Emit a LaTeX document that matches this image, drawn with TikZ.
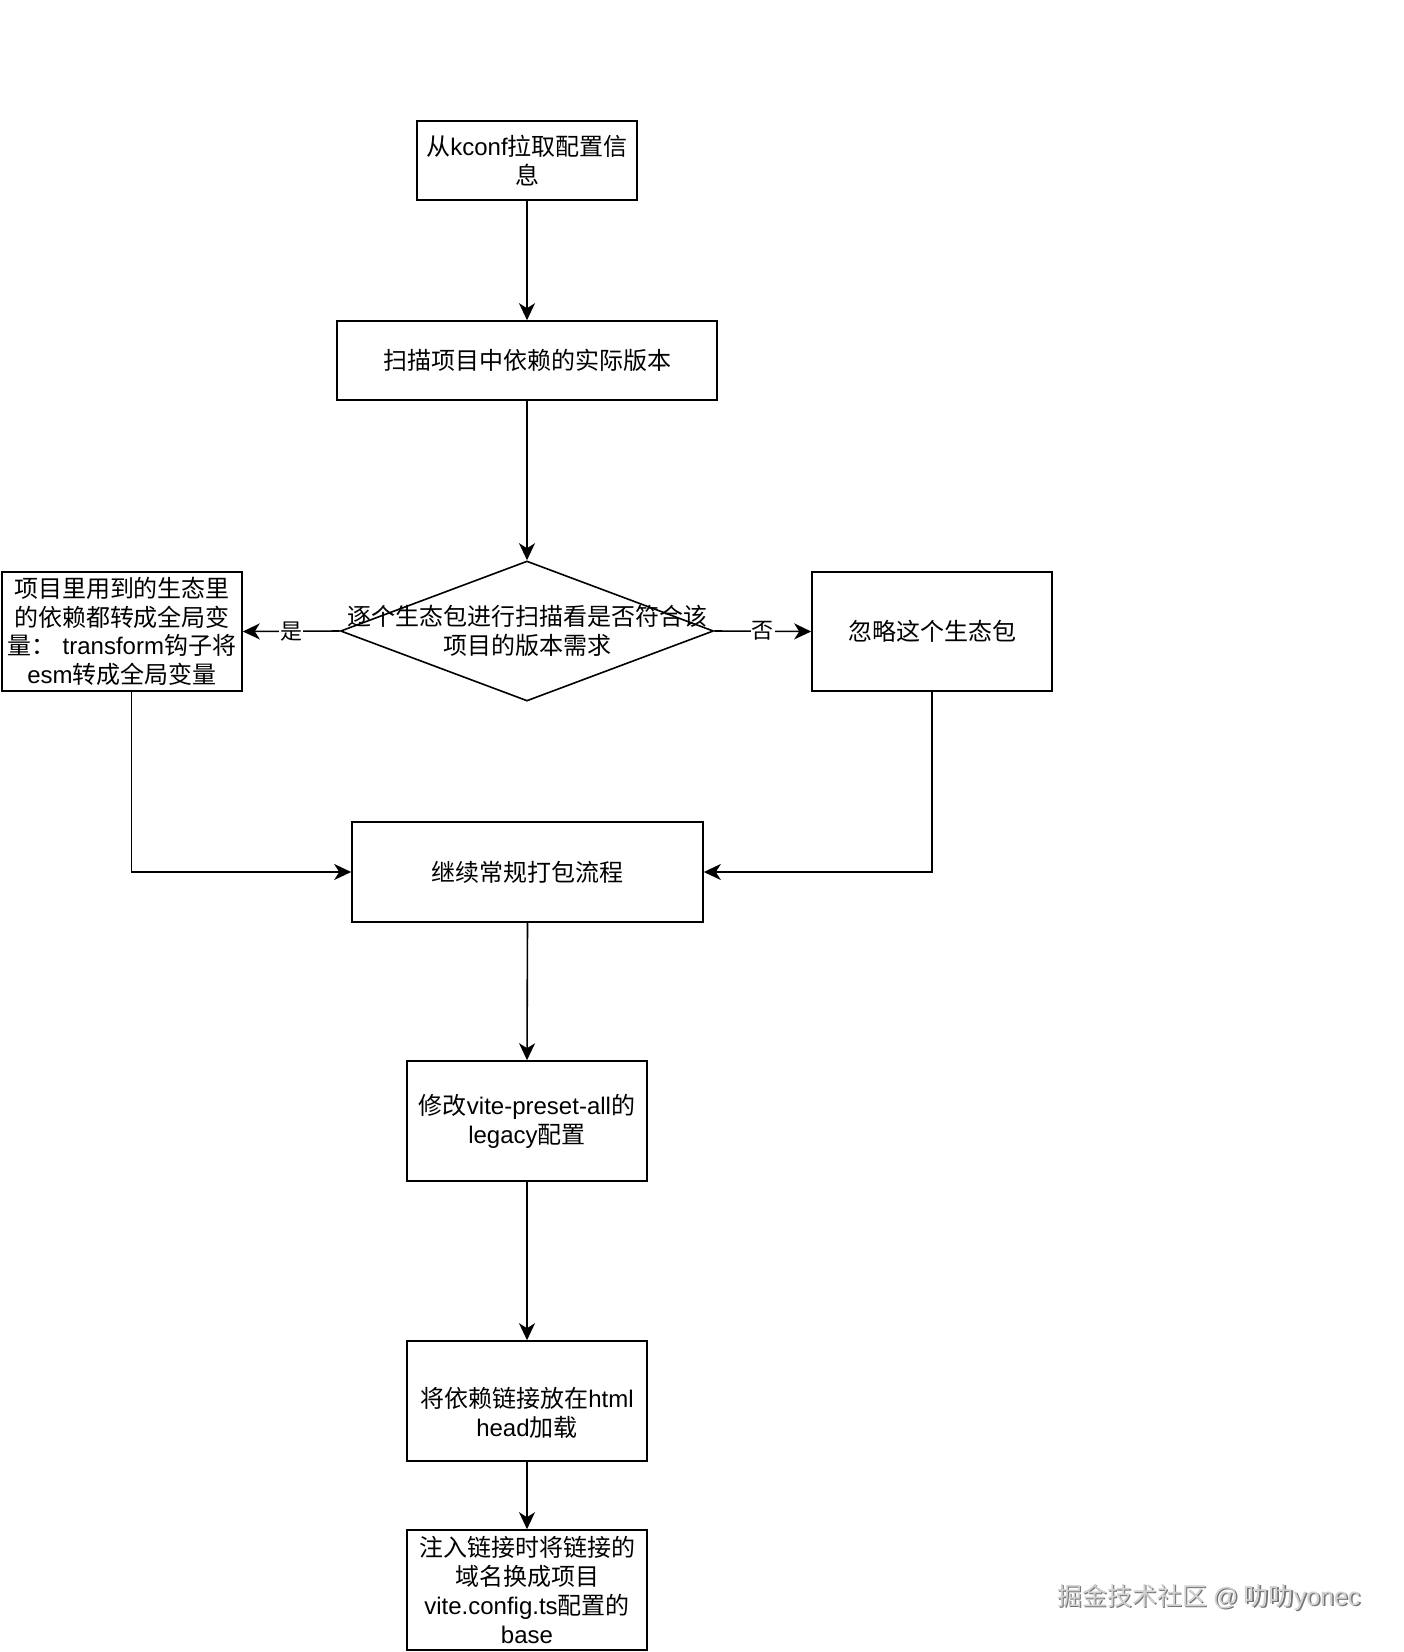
\documentclass[tikz,border=0pt]{standalone}
\usepackage{fontspec}
\setmainfont{Noto Sans CJK SC}
\newfontfamily\lat{Liberation Sans}
\usetikzlibrary{arrows.meta,shapes.geometric}
\begin{document}
\begin{tikzpicture}[x=1pt,y=-1pt,
  every node/.style={font=\fontsize{24}{28.8}\selectfont},
  box/.style={draw,line width=1.6pt,inner sep=0pt,align=center,fill=white},
  conn/.style={line width=1.6pt,-{Stealth[length=17pt,width=16pt,inset=5pt]}},
  lbl/.style={fill=white,inner sep=1pt,font=\fontsize{22}{26}\selectfont}]
\useasboundingbox[fill=white] (0,0) rectangle (1404,1652);
\node[box,minimum width=220pt,minimum height=79pt] (b1) at (527,160.5) {从{\lat kconf}拉取配置信\\息};
\node[box,minimum width=380pt,minimum height=79pt] (b2) at (527,360.5) {扫描项目中依赖的实际版本};
\node[draw,line width=1.6pt,diamond,inner sep=0pt,minimum width=373pt,minimum height=140pt,aspect=2.66] (dia) at (527,631) {};
\node[align=center,inner sep=0pt] (diat) at (527,631) {逐个生态包进行扫描看是否符合该\\项目的版本需求};
\node[box,minimum width=240pt,minimum height=119pt] (left) at (122,631.5) {项目里用到的生态里\\的依赖都转成全局变\\量：{\lat\ transform}钩子将\\{\lat esm}转成全局变量};
\node[box,minimum width=240pt,minimum height=119pt] (right) at (932,631.5) {忽略这个生态包};
\node[box,minimum width=351pt,minimum height=100pt] (b3) at (527.5,872) {继续常规打包流程};
\node[box,minimum width=240pt,minimum height=120pt] (b4) at (527,1121) {修改{\lat vite-preset-all}的\\{\lat legacy}配置};
\node[box,minimum width=240pt,minimum height=120pt] (b5) at (527,1401) {};
\node[align=center,inner sep=0pt] (b5t) at (527,1413) {将依赖链接放在{\lat html}\\{\lat head}加载};
\node[box,minimum width=240pt,minimum height=120pt] (b6) at (527,1590) {注入链接时将链接的\\域名换成项目\\{\lat vite.config.ts}配置的\\{\lat base}};
\coordinate (ls) at ([xshift=9.5pt]left.south);
\draw[conn] (b1.south) -- (b2.north);
\draw[conn] (b2.south) -- (dia.north);
\draw[conn] (dia.west) -- node[lbl] {是} (left.east);
\draw[conn] (dia.east) -- node[lbl] {否} (right.west);
\draw[conn] (ls) |- (b3.west);
\draw[conn] (right.south) |- (b3.east);
\draw[conn] (b3.south) -- (b4.north);
\draw[conn] (b4.south) -- (b5.north);
\draw[conn] (b5.south) -- (b6.north);
\node[anchor=west,text=black!55,inner sep=0pt,font=\fontsize{25}{30}\selectfont] at (1058.5,1598.5) {掘金技术社区 {\lat @} 叻叻{\lat yonec}};
\node[anchor=west,text=black!18,inner sep=0pt,font=\fontsize{25}{30}\selectfont] (wm) at (1057,1597) {掘金技术社区 {\lat @} 叻叻{\lat yonec}};
\end{tikzpicture}
\end{document}
